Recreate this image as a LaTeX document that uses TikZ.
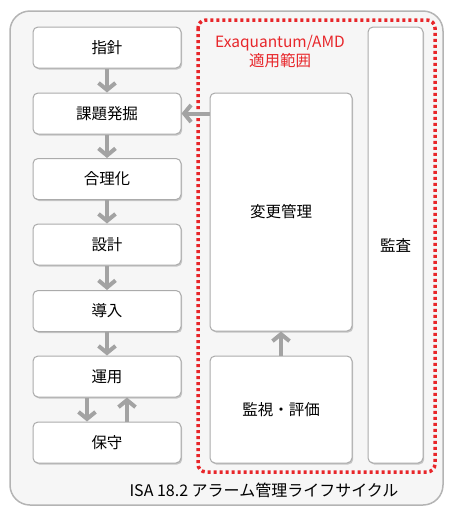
\documentclass[tikz,border=0pt]{standalone}
\usepackage{fontspec}
\setmainfont{Noto Sans CJK JP}
\usetikzlibrary{arrows.meta,shadows}
\definecolor{bgfill}{HTML}{F6F6F6}
\definecolor{bgline}{HTML}{B4B4B4}
\definecolor{boxline}{HTML}{ABABAB}
\definecolor{arrgray}{HTML}{A3A3A3}
\definecolor{scopered}{HTML}{E8262A}
\tikzset{
  box/.style={draw=boxline, line width=1pt, fill=white, rounded corners=5pt,
    drop shadow={shadow xshift=1.2pt, shadow yshift=-1.5pt, fill=black!35, opacity=0.6},
    font=\fontsize{15.5}{18}\selectfont, inner sep=0pt},
  lbox/.style={box, minimum width=148pt, minimum height=41pt},
  flow/.style={draw=arrgray, line width=4pt, -{Straight Barb[length=7pt,width=17pt]}},
}
\begin{document}
\begin{tikzpicture}[x=1pt,y=-1pt]
\useasboundingbox (0,0) rectangle (449,507);
\draw[fill=bgfill, draw=bgline, line width=1.5pt, rounded corners=20pt] (10,11) rectangle (443,505);
\draw[scopered, line width=3.5pt, dash pattern=on 3.2pt off 2.8pt, rounded corners=8pt] (198,20) rectangle (435,472);
\node[text=scopered, font=\fontsize{15.5}{19}\selectfont, align=center] (scope) at (280,52) {Exaquantum/AMD\\適用範囲};
\node[lbox] (a) at (107,47.5) {指針};
\node[lbox] (b) at (107,113.5) {課題発掘};
\node[lbox] (c) at (107,179) {合理化};
\node[lbox] (d) at (107,244.5) {設計};
\node[lbox] (e) at (107,311) {導入};
\node[lbox] (f) at (107,376.5) {運用};
\node[lbox] (g) at (107,442.5) {保守};
\node[box, minimum width=142pt, minimum height=238pt] (h) at (281,212) {変更管理};
\node[box, minimum width=142pt, minimum height=107pt] (i) at (281,409.5) {監視・評価};
\node[box, minimum width=55pt, minimum height=436pt] (j) at (395.5,245) {監査};
\draw[flow] (a) -- (b);
\draw[flow] (b) -- (c);
\draw[flow] (c) -- (d);
\draw[flow] (d) -- (e);
\draw[flow] (e) -- (f);
\draw[flow] ([xshift=-20pt]f.south) -- ([xshift=-20pt]g.north);
\draw[flow] ([xshift=20pt]g.north) -- ([xshift=20pt]f.south);
\draw[flow] (i) -- (h);
\draw[flow] (h.west |- b.east) -- (b.east);
\node[font=\fontsize{16}{18}\selectfont] (cap) at (264,490) {ISA 18.2 アラーム管理ライフサイクル};
\end{tikzpicture}
\end{document}
